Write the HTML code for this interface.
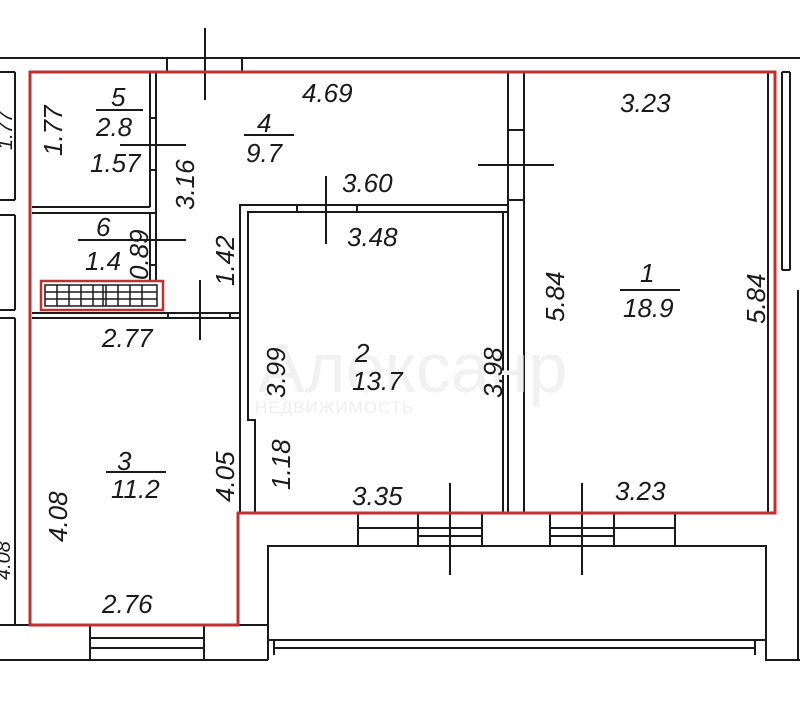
<!DOCTYPE html>
<html><head><meta charset="utf-8"><style>
html,body{margin:0;padding:0;background:#fff}
svg{display:block}
text{font-family:"Liberation Sans",sans-serif;font-style:italic;font-size:26px;fill:#1a1a1a}
</style></head><body>
<svg width="800" height="717" viewBox="0 0 800 717" xmlns="http://www.w3.org/2000/svg">
<g stroke="#1a1a1a" stroke-width="2" fill="none">
<line x1="0" y1="58" x2="800" y2="58"/>
<line x1="167" y1="58" x2="167" y2="72"/><line x1="242" y1="58" x2="242" y2="72"/>
<line x1="205" y1="28" x2="205" y2="100"/>
<line x1="15" y1="72" x2="15" y2="200"/><line x1="0" y1="72" x2="15" y2="72"/><line x1="0" y1="200" x2="15" y2="200"/>
<line x1="15" y1="215" x2="15" y2="310"/><line x1="0" y1="215" x2="15" y2="215"/><line x1="0" y1="310" x2="15" y2="310"/>
<line x1="15" y1="318" x2="15" y2="625"/><line x1="0" y1="318" x2="15" y2="318"/>
<line x1="0" y1="625" x2="90" y2="625"/>
<line x1="150" y1="72" x2="150" y2="207"/><line x1="156" y1="72" x2="156" y2="280"/>
<line x1="32" y1="207" x2="150" y2="207"/><line x1="32" y1="213" x2="156" y2="213"/>
<line x1="150" y1="213" x2="150" y2="280"/>
<line x1="150" y1="118" x2="156" y2="118"/><line x1="150" y1="170" x2="156" y2="170"/>
<line x1="120" y1="145" x2="186" y2="145"/><line x1="110" y1="240" x2="186" y2="240"/>
<line x1="150" y1="265" x2="156" y2="265"/>
<line x1="32" y1="313" x2="240" y2="313"/><line x1="32" y1="318" x2="240" y2="318"/>
<line x1="168" y1="313" x2="168" y2="318"/><line x1="230" y1="313" x2="230" y2="318"/>
<line x1="200" y1="280" x2="200" y2="340"/>
<polyline points="240,318 240,205 508,205"/>
<polyline points="248,313 248,212 508,212"/>
<line x1="297" y1="205" x2="297" y2="212"/><line x1="357" y1="205" x2="357" y2="212"/>
<line x1="326" y1="176" x2="326" y2="244"/>
<polyline points="248,313 248,420 255,420 255,513"/>
<line x1="240" y1="318" x2="240" y2="513"/>
<line x1="503" y1="212" x2="503" y2="513"/><line x1="508" y1="72" x2="508" y2="513"/>
<line x1="524" y1="72" x2="524" y2="513"/>
<line x1="508" y1="130" x2="524" y2="130"/><line x1="508" y1="200" x2="524" y2="200"/>
<line x1="478" y1="165" x2="554" y2="165"/>
<line x1="768" y1="72" x2="768" y2="513"/>
<line x1="782" y1="72" x2="782" y2="270"/><line x1="790" y1="72" x2="790" y2="270"/>
<line x1="782" y1="72" x2="790" y2="72"/><line x1="782" y1="270" x2="790" y2="270"/>
<line x1="798" y1="290" x2="798" y2="660"/>
<rect x="358" y="513" width="124" height="33"/>
<line x1="418" y1="513" x2="418" y2="546"/>
<line x1="358" y1="528" x2="482" y2="528"/><line x1="418" y1="536" x2="482" y2="536"/>
<line x1="450" y1="483" x2="450" y2="575"/>
<rect x="550" y="513" width="125" height="33"/>
<line x1="614" y1="513" x2="614" y2="546"/>
<line x1="550" y1="528" x2="675" y2="528"/><line x1="550" y1="536" x2="614" y2="536"/>
<line x1="582" y1="483" x2="582" y2="575"/>
<polyline points="268,660 268,546 766,546 766,660 800,660"/>
<line x1="268" y1="640" x2="766" y2="640"/>
<line x1="274" y1="648" x2="755" y2="648"/>
<line x1="274" y1="641" x2="274" y2="655"/><line x1="755" y1="641" x2="755" y2="655"/>
<line x1="238" y1="625" x2="268" y2="625"/>
<line x1="205" y1="660" x2="268" y2="660"/><line x1="0" y1="660" x2="90" y2="660"/>
<rect x="90" y="625" width="114" height="35"/>
<line x1="90" y1="638" x2="204" y2="638"/><line x1="90" y1="648" x2="204" y2="648"/>
</g>
<g stroke="#1a1a1a" stroke-width="1.5" fill="none">
<rect x="45" y="285" width="112" height="21"/>
<line x1="45" y1="292" x2="157" y2="292"/><line x1="45" y1="299" x2="157" y2="299"/>
<line x1="57" y1="285" x2="57" y2="306"/><line x1="69" y1="285" x2="69" y2="306"/><line x1="81" y1="285" x2="81" y2="306"/><line x1="93" y1="285" x2="93" y2="306"/><line x1="103" y1="285" x2="103" y2="306"/><line x1="106" y1="285" x2="106" y2="306"/><line x1="118" y1="285" x2="118" y2="306"/><line x1="130" y1="285" x2="130" y2="306"/><line x1="142" y1="285" x2="142" y2="306"/>
</g>
<rect x="41" y="281" width="122" height="29" fill="none" stroke="#c03030" stroke-width="2.5"/>
<polygon points="30,72 775,72 775,513 238,513 238,625 30,625" fill="none" stroke="#c03030" stroke-width="3"/>
<text x="258" y="392" style="font-size:70px;font-style:normal;fill:#f1f1f1">Алексанр</text>
<text x="255" y="413" style="font-size:17px;font-style:normal;fill:#eeeeee;letter-spacing:1px">НЕДВИЖИМОСТЬ</text>
<g>
<text x="111" y="106">5</text><line x1="96" y1="110" x2="143" y2="110" stroke="#1a1a1a" stroke-width="2"/>
<text x="96" y="136">2.8</text>
<text x="90" y="172">1.57</text>
<text transform="translate(62,156) rotate(-90)">1.77</text>
<text transform="translate(194,210) rotate(-90)">3.16</text>
<text x="96" y="236">6</text><line x1="78" y1="240" x2="124" y2="240" stroke="#1a1a1a" stroke-width="2"/>
<text x="85" y="270">1.4</text>
<text transform="translate(148,280) rotate(-90)">0.89</text>
<text transform="translate(234,286) rotate(-90)">1.42</text>
<text x="257" y="132">4</text><line x1="244" y1="135" x2="294" y2="135" stroke="#1a1a1a" stroke-width="2"/>
<text x="246" y="162">9.7</text>
<text x="302" y="102">4.69</text>
<text x="342" y="192">3.60</text>
<text x="347" y="246">3.48</text>
<text x="102" y="347">2.77</text>
<text x="117" y="470">3</text><line x1="106" y1="472" x2="166" y2="472" stroke="#1a1a1a" stroke-width="2"/>
<text x="111" y="498">11.2</text>
<text transform="translate(67,542) rotate(-90)">4.08</text>
<text transform="translate(234,502) rotate(-90)">4.05</text>
<text transform="translate(290,490) rotate(-90)">1.18</text>
<text x="102" y="613">2.76</text>
<text x="352" y="505">3.35</text>
<text x="615" y="500">3.23</text>
<text x="620" y="112">3.23</text>
<text transform="translate(564,322) rotate(-90)">5.84</text>
<text transform="translate(765,324) rotate(-90)">5.84</text>
<text x="640" y="282">1</text><line x1="620" y1="290" x2="680" y2="290" stroke="#1a1a1a" stroke-width="2"/>
<text x="623" y="317">18.9</text>
<text transform="translate(285,398) rotate(-90)">3.99</text>
<text transform="translate(502,398) rotate(-90)">3.98</text>
<text x="352" y="390">13.7</text>
<text x="355" y="362">2</text>
<text transform="translate(12,150) rotate(-90)" style="font-size:20px">1.77</text>
<text transform="translate(10,580) rotate(-90)" style="font-size:20px">4.08</text>
</g>
</svg>
</body></html>
